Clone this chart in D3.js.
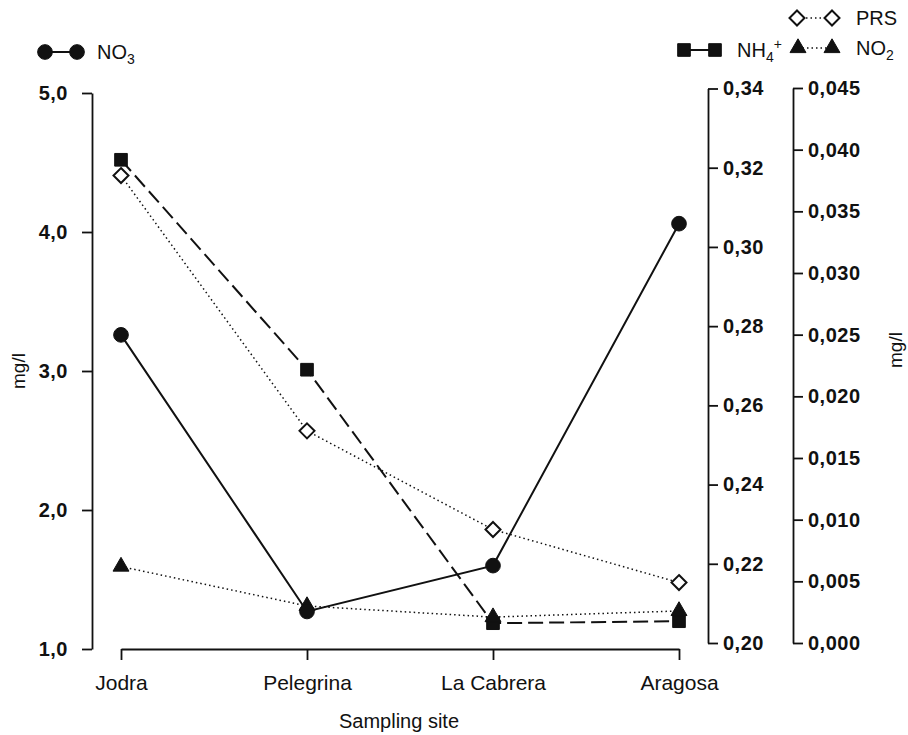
<!DOCTYPE html>
<html>
<head>
<meta charset="utf-8">
<script src="https://cdn.jsdelivr.net/npm/d3@7"></script>
<style>
body{margin:0;background:#fff;}
svg text{font-family:"Liberation Sans",Arial,sans-serif;fill:#111;}
</style>
</head>
<body>
<svg id="c" width="908" height="735"></svg>
<script>
const categories = ["Jodra","Pelegrina","La Cabrera","Aragosa"];
const no3 = [3.26, 1.27, 1.60, 4.06];
const nh4 = [0.322, 0.269, 0.205, 0.2055];
const prs = [0.0379, 0.0172, 0.0092, 0.0049];
const no2 = [0.0062, 0.0030, 0.0021, 0.0026];
const leftTicks = [1,2,3,4,5];
const nh4Ticks = [0.20,0.22,0.24,0.26,0.28,0.30,0.32,0.34];
const no2Ticks = [0,0.005,0.010,0.015,0.020,0.025,0.030,0.035,0.040,0.045];

const svg = d3.select("#c");
const x = d3.scalePoint().domain(categories).range([121,679]);
const yL = d3.scaleLinear().domain([1,5]).range([649,93]);
const yN = d3.scaleLinear().domain([0.20,0.34]).range([643,88.5]);
const yP = d3.scaleLinear().domain([0,0.045]).range([643,88]);
const comma = f => d => d3.format(f)(d).replace(".", ",");

function styleAxis(g){
  g.selectAll("path,line").attr("stroke","#111").attr("stroke-width",1.8);
  g.selectAll("text").attr("font-size",20).attr("font-weight","bold").attr("letter-spacing",0.5).attr("fill","#111");
}
svg.append("g").attr("transform","translate(92,0)")
  .call(d3.axisLeft(yL).tickValues(leftTicks).tickFormat(comma(".1f")).tickSize(10).tickSizeOuter(0).tickPadding(14))
  .call(styleAxis);
svg.append("g").attr("transform","translate(708,0)")
  .call(d3.axisRight(yN).tickValues(nh4Ticks).tickFormat(comma(".2f")).tickSize(10).tickSizeOuter(0).tickPadding(5))
  .call(styleAxis);
svg.append("g").attr("transform","translate(793,0)")
  .call(d3.axisRight(yP).tickValues(no2Ticks).tickFormat(comma(".3f")).tickSize(10).tickSizeOuter(0).tickPadding(5))
  .call(styleAxis);
const xg = svg.append("g").attr("transform","translate(0,649)")
  .call(d3.axisBottom(x).tickSize(11).tickSizeOuter(0).tickPadding(15));
xg.selectAll("path,line").attr("stroke","#111").attr("stroke-width",1.8);
xg.selectAll("text").attr("font-size",21).attr("fill","#111");

svg.append("text").attr("transform","translate(25,371) rotate(-90)").attr("text-anchor","middle").attr("font-size",19).text("mg/l");
svg.append("text").attr("transform","translate(902,350) rotate(-90)").attr("text-anchor","middle").attr("font-size",19).text("mg/l");
svg.append("text").attr("x",399).attr("y",728).attr("text-anchor","middle").attr("font-size",20).text("Sampling site");

function series(vals, ys, dash, width){
  const line = d3.line().x((d,i)=>x(categories[i])).y(d=>ys(d));
  svg.append("path").datum(vals).attr("d",line).attr("fill","none")
    .attr("stroke","#111").attr("stroke-width",width).attr("stroke-dasharray",dash);
}
series(prs, yP, "1.5,3", 1.5);
series(no2, yP, "1.5,3", 1.5);
series(nh4, yN, "15,6", 2);
series(no3, yL, null, 2);

const diamondPath = "M0,-7.5L7.5,0L0,7.5L-7.5,0Z";
const sym = {
  circle: d3.symbol().type(d3.symbolCircle).size(170),
  square: d3.symbol().type(d3.symbolSquare).size(160),
  diamond: () => diamondPath,
  triangle: d3.symbol().type(d3.symbolTriangle).size(110)
};
function marks(vals, ys, kind, fill){
  svg.append("g").selectAll("path").data(vals).join("path")
    .attr("transform",(d,i)=>`translate(${x(categories[i])},${ys(d)})`)
    .attr("d",sym[kind]).attr("fill",fill).attr("stroke","#111").attr("stroke-width",fill==="#fff"?2:1);
}
marks(nh4, yN, "square", "#111");
marks(no2, yP, "triangle", "#111");
marks(prs, yP, "diamond", "#fff");
marks(no3, yL, "circle", "#111");

function legend(x1, x2, y, kind, fill, dash, lbl, sub, sup, tx){
  svg.append("line").attr("x1",x1).attr("x2",x2).attr("y1",y).attr("y2",y)
    .attr("stroke","#111").attr("stroke-width",dash?1.5:2).attr("stroke-dasharray",dash);
  [x1,x2].forEach(px=>svg.append("path").attr("transform",`translate(${px},${y})`)
    .attr("d",sym[kind]).attr("fill",fill).attr("stroke","#111").attr("stroke-width",fill==="#fff"?2:1));
  const t = svg.append("text").attr("x",tx).attr("y",y+7).attr("font-size",20);
  t.append("tspan").text(lbl);
  if(sub){ t.append("tspan").attr("font-size",14).attr("dy",5).text(sub); }
  if(sup){ t.append("tspan").attr("font-size",14).attr("dy",-13).text(sup); }
}
legend(45, 77, 52, "circle", "#111", null, "NO", "3", null, 97);
legend(797, 832, 18, "diamond", "#fff", "1.5,3", "PRS", null, null, 856);
legend(684, 715, 50, "square", "#111", null, "NH", "4", "+", 737);
legend(798, 832, 48, "triangle", "#111", "1.5,3", "NO", "2", null, 856);
</script>
</body>
</html>
